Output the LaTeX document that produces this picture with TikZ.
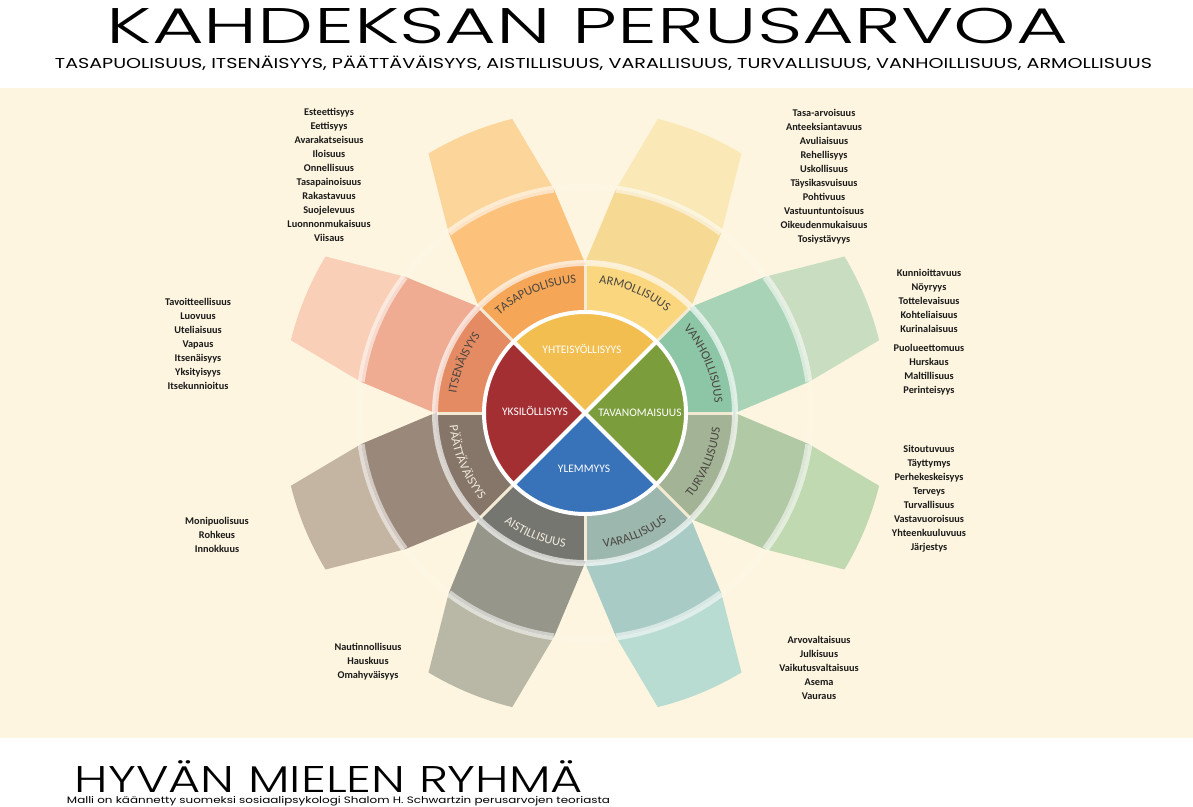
\documentclass[tikz,border=0pt]{standalone}
\usepackage{fontspec}
\setmainfont{Carlito}
\newfontfamily\headfont{Poppins Light}
\newfontfamily\widefont{Poppins}
\usetikzlibrary{decorations.text}
\definecolor{paper}{HTML}{FDF5DF}
\definecolor{ink}{HTML}{1A1A1A}
\definecolor{inkring}{HTML}{4A4540}
\definecolor{inklight}{HTML}{F1EADB}
\definecolor{divcol}{HTML}{F2EAD2}
\definecolor{yhtcol}{HTML}{F1BE4F}
\definecolor{tavcol}{HTML}{7B9D3C}
\definecolor{ylecol}{HTML}{3872B9}
\definecolor{yksicol}{HTML}{A32F33}
\definecolor{tasaring}{HTML}{F5A657}
\definecolor{tasain}{HTML}{FCC27C}
\definecolor{tasaout}{HTML}{FCD59B}
\definecolor{armring}{HTML}{FAD67E}
\definecolor{armin}{HTML}{F6D993}
\definecolor{armout}{HTML}{FAE9B7}
\definecolor{vanring}{HTML}{8CC6A6}
\definecolor{vanin}{HTML}{A9D3B6}
\definecolor{vanout}{HTML}{C9DDC0}
\definecolor{turvring}{HTML}{A3B496}
\definecolor{turvin}{HTML}{B2C9A6}
\definecolor{turvout}{HTML}{C1D9B1}
\definecolor{varring}{HTML}{9CB8AE}
\definecolor{varin}{HTML}{A8CCC5}
\definecolor{varout}{HTML}{B9DCD2}
\definecolor{aistring}{HTML}{767671}
\definecolor{aistin}{HTML}{96968A}
\definecolor{aistout}{HTML}{B9B8A6}
\definecolor{paatring}{HTML}{86766A}
\definecolor{paatin}{HTML}{9A887A}
\definecolor{paatout}{HTML}{C4B4A2}
\definecolor{itsring}{HTML}{E58B63}
\definecolor{itsin}{HTML}{EFAC93}
\definecolor{itsout}{HTML}{F9CFB8}
\newcommand\capbox[1]{\raisebox{0pt}[\fontcharht\font`H][0pt]{#1}}
\newcommand\ringfont{\fontsize{12.5}{13}\selectfont}
\tikzset{
  valuetext/.style={anchor=base,inner sep=0pt,font=\bfseries\fontsize{10.3}{12}\selectfont,text=ink},
  pielabel/.style={inner sep=0pt,text=white,font=\fontsize{11.5}{12}\selectfont},
  headline/.style={anchor=base,inner sep=0pt},
  ringtext/.style={decorate,decoration={text along path,text align=center,text={#1}}},
  faintband/.style={white,opacity=.1,line width=7pt},
  petalband/.style={white,opacity=.5,line width=7pt},
  ringband/.style={white,opacity=.65,line width=6pt},
  divider/.style={divcol,line width=3pt},
  piedivider/.style={white,line width=4pt}
}

\begin{document}
\begin{tikzpicture}[x=1pt,y=1pt]
  \useasboundingbox (0,0) rectangle (1193,-806);
  \fill[paper] (0,-88) rectangle (1193,-738);

  \node[headline] (title) at (587.5,-43) {\headfont\resizebox{961pt}{35pt}{\capbox{KAHDEKSAN PERUSARVOA}}};
  \node[headline] (subtitle) at (603.5,-68) {\widefont\resizebox{1097pt}{10pt}{\capbox{TASAPUOLISUUS, ITSENÄISYYS, PÄÄTTÄVÄISYYS, AISTILLISUUS, VARALLISUUS, TURVALLISUUS, VANHOILLISUUS, ARMOLLISUUS}}};
  \node[headline] (group) at (329,-792) {\headfont\resizebox{508pt}{26pt}{\capbox{HYVÄN MIELEN RYHMÄ}}};
  \node[headline] (source) at (338.5,-803) {\widefont\resizebox{543pt}{6.5pt}{\capbox{Malli on käännetty suomeksi sosiaalipsykologi Shalom H. Schwartzin perusarvojen teoriasta}}};

  \coordinate (hub) at (585,-413);
  \begin{scope}[shift={(hub)}]
    \foreach \ang/\pin/\pout in {112.5/tasain/tasaout,67.5/armin/armout,22.5/vanin/vanout,-22.5/turvin/turvout,
                                 -67.5/varin/varout,-112.5/aistin/aistout,-157.5/paatin/paatout,157.5/itsin/itsout}{
      \fill[\pin] ({\ang-22.5}:150) -- ({\ang-14.6}:226) arc[start angle=\ang-14.6,end angle=\ang+14.6,radius=226]
        -- ({\ang+22.5}:150) arc[start angle=\ang+22.5,end angle=\ang-22.5,radius=150] -- cycle;
      \fill[\pout] ({\ang-14.6}:226) -- ({\ang-8.6}:303) arc[start angle=\ang-8.6,end angle=\ang+8.6,radius=303]
        -- ({\ang+14.6}:226) arc[start angle=\ang+14.6,end angle=\ang-14.6,radius=226] -- cycle;
      \draw[petalband] ({\ang-14.5}:226) arc[start angle=\ang-14.5,end angle=\ang+14.5,radius=226];
    }
    \draw[faintband] (0,0) circle[radius=226];

    \foreach \a/\c in {90/tasaring,45/armring,0/vanring,-45/turvring,-90/varring,-135/aistring,180/paatring,135/itsring}
      \fill[\c] (0,0) -- (\a:150) arc[start angle=\a,end angle=\a+45,radius=150] -- cycle;
    \foreach \a in {0,45,...,315}
      \draw[divider] (\a:100) -- (\a:148);
    \draw[ringband] (0,0) circle[radius=150];

    \fill[yhtcol] (0,0) -- (45:100) arc[start angle=45,end angle=135,radius=100] -- cycle;
    \fill[yksicol] (0,0) -- (135:100) arc[start angle=135,end angle=225,radius=100] -- cycle;
    \fill[ylecol] (0,0) -- (225:100) arc[start angle=225,end angle=315,radius=100] -- cycle;
    \fill[tavcol] (0,0) -- (-45:100) arc[start angle=-45,end angle=45,radius=100] -- cycle;
    \foreach \a in {45,135,225,315}
      \draw[piedivider] (0,0) -- (\a:101);
    \draw[piedivider] (0,0) circle[radius=101];

    \path[ringtext={|\ringfont\color{inkring}|TASAPUOLISUUS}] (135:130) arc[start angle=135,end angle=90,radius=130];
    \path[ringtext={|\ringfont\color{inkring}|ARMOLLISUUS}] (90:130) arc[start angle=90,end angle=45,radius=130];
    \path[ringtext={|\ringfont\color{inkring}|VANHOILLISUUS}] (45:130) arc[start angle=45,end angle=0,radius=130];
    \path[ringtext={|\ringfont\color{inkring}|ITSENÄISYYS}] (180:130) arc[start angle=180,end angle=135,radius=130];
    \path[ringtext={|\ringfont\color{inkring}|TURVALLISUUS}] (-45:136) arc[start angle=-45,end angle=0,radius=136];
    \path[ringtext={|\ringfont\color{inkring}|VARALLISUUS}] (-90:136) arc[start angle=-90,end angle=-45,radius=136];
    \path[ringtext={|\ringfont\color{inklight}|AISTILLISUUS}] (-135:136) arc[start angle=-135,end angle=-90,radius=136];
    \path[ringtext={|\ringfont\color{inklight}|PÄÄTTÄVÄISYYS}] (180:136) arc[start angle=180,end angle=225,radius=136];
  \end{scope}

  \node[pielabel] (yht) at (582,-349) {YHTEISYÖLLISYYS};
  \node[pielabel] (yksi) at (535,-411) {YKSILÖLLISYYS};
  \node[pielabel] (tav) at (640,-413) {TAVANOMAISUUS};
  \node[pielabel] (yle) at (584,-469) {YLEMMYYS};

  \foreach \w [count=\i from 0] in {Esteettisyys,Eettisyys,Avarakatseisuus,Iloisuus,Onnellisuus,Tasapainoisuus,Rakastavuus,Suojelevuus,Luonnonmukaisuus,Viisaus}
    \node[valuetext] (tasa\i) at (329,{-115-14*\i}) {\w};
  \foreach \w [count=\i from 0] in {Tasa-arvoisuus,Anteeksiantavuus,Avuliaisuus,Rehellisyys,Uskollisuus,Täysikasvuisuus,Pohtivuus,Vastuuntuntoisuus,Oikeudenmukaisuus,Tosiystävyys}
    \node[valuetext] (arm\i) at (824,{-116-14*\i}) {\w};
  \foreach \w [count=\i from 0] in {Kunnioittavuus,Nöyryys,Tottelevaisuus,Kohteliaisuus,Kurinalaisuus}
    \node[valuetext] (van\i) at (929,{-276-14*\i}) {\w};
  \foreach \w [count=\i from 5] in {Puolueettomuus,Hurskaus,Maltillisuus,Perinteisyys}
    \node[valuetext] (van\i) at (929,{-351-14*(\i-5)}) {\w};
  \foreach \w [count=\i from 0] in {Sitoutuvuus,Täyttymys,Perhekeskeisyys,Terveys,Turvallisuus,Vastavuoroisuus,Yhteenkuuluvuus,Järjestys}
    \node[valuetext] (turv\i) at (929,{-452-14*\i}) {\w};
  \foreach \w [count=\i from 0] in {Arvovaltaisuus,Julkisuus,Vaikutusvaltaisuus,Asema,Vauraus}
    \node[valuetext] (var\i) at (819,{-643-14*\i}) {\w};
  \foreach \w [count=\i from 0] in {Nautinnollisuus,Hauskuus,Omahyväisyys}
    \node[valuetext] (aist\i) at (368,{-650-14*\i}) {\w};
  \foreach \w [count=\i from 0] in {Monipuolisuus,Rohkeus,Innokkuus}
    \node[valuetext] (paat\i) at (217,{-524-14*\i}) {\w};
  \foreach \w [count=\i from 0] in {Tavoitteellisuus,Luovuus,Uteliaisuus,Vapaus,Itsenäisyys,Yksityisyys,Itsekunnioitus}
    \node[valuetext] (its\i) at (198,{-305-14*\i}) {\w};
\end{tikzpicture}
\end{document}
